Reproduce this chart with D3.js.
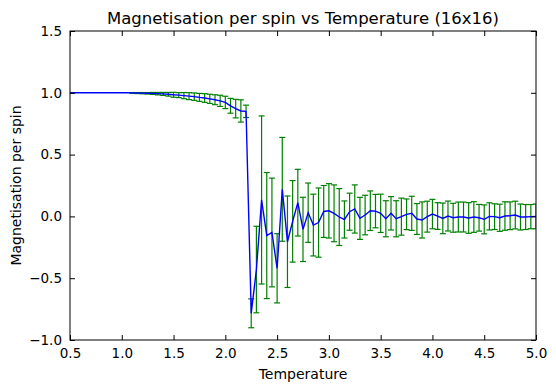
<!DOCTYPE html>
<html>
<head>
<meta charset="utf-8">
<script src="https://cdn.jsdelivr.net/npm/d3@7"></script>
<style>
  body { margin: 0; background: #fff; }
  svg text { font-family: "DejaVu Sans", sans-serif; fill: #000; }
</style>
</head>
<body>
<script>
// temperatures (step 0.05)
const temperatures = d3.range(0, 91).map(i => +(0.5 + i * 0.05).toFixed(2));

// magnetisation per spin
const magnetisation = [
  1, 1, 1, 1, 1, 1, 1, 1, 1, 1, 1, 1,
  0.999, 0.998, 0.997, 0.996, 0.995, 0.993, 0.991, 0.988, 0.984, 0.981,
  0.977, 0.973, 0.969, 0.963, 0.958, 0.951, 0.944, 0.935, 0.922, 0.895,
  0.872, 0.853, 0.85,
  -0.784, -0.43, 0.133, -0.155, -0.13, -0.42, 0.219, -0.205, -0.04, 0.111,
  -0.105, 0.03, -0.07, -0.05, 0.04, 0.045, 0.025, -0.005, -0.025, 0.038,
  0.06, -0.016, 0.011, 0.046, 0.043, 0.025, -0.019, 0.025, -0.019, -0.002,
  0.017, 0.025, -0.021, -0.029, -0.002, 0.019, 0.003, -0.016, 0.003, -0.011,
  -0.005, -0.005, -0.013, -0.005, -0.011, -0.024, 0.0, -0.002, -0.011, 0.003,
  0.005, 0.011, -0.005, -0.005, -0.002, 0.0
];

// error bar half-lengths
const errors = [
  0, 0, 0, 0, 0, 0, 0, 0, 0, 0, 0, 0,
  0.003, 0.004, 0.005, 0.006, 0.008, 0.01, 0.012, 0.015, 0.02, 0.02,
  0.025, 0.028, 0.03, 0.032, 0.035, 0.037, 0.04, 0.045, 0.05, 0.06,
  0.075, 0.09, 0.05,
  0.117, 0.35, 0.68, 0.51, 0.44, 0.28, 0.42, 0.37, 0.33, 0.27,
  0.26, 0.24, 0.25, 0.28, 0.21, 0.22, 0.23, 0.23, 0.15, 0.15,
  0.195, 0.17, 0.16, 0.16, 0.135, 0.155, 0.146, 0.135, 0.146, 0.15,
  0.124, 0.138, 0.125, 0.146, 0.125, 0.119, 0.108, 0.124, 0.121, 0.117,
  0.121, 0.121, 0.124, 0.124, 0.108, 0.117, 0.11, 0.104, 0.11, 0.115,
  0.112, 0.112, 0.105, 0.101, 0.098, 0.1
];

const xTicks = [0.5, 1.0, 1.5, 2.0, 2.5, 3.0, 3.5, 4.0, 4.5, 5.0];
const yTicks = [-1.0, -0.5, 0.0, 0.5, 1.0, 1.5];

const data = temperatures.map((t, i) => ({ t: t, m: magnetisation[i], e: errors[i] }));

const W = 556, H = 391;
const margin = { top: 31, right: 20, bottom: 51, left: 70 };
const width = W - margin.left - margin.right;
const height = H - margin.top - margin.bottom;

const svg = d3.select("body").append("svg")
  .attr("width", W)
  .attr("height", H);

const g = svg.append("g")
  .attr("transform", "translate(" + margin.left + "," + margin.top + ")");

const x = d3.scaleLinear().domain([0.5, 5.0]).range([0, width]);
const y = d3.scaleLinear().domain([-1.0, 1.5]).range([height, 0]);

const fmt = d => d3.format(".1f")(d).replace("-", "\u2212");

g.append("clipPath").attr("id", "clip")
  .append("rect").attr("width", width).attr("height", height);

const plot = g.append("g").attr("clip-path", "url(#clip)");

// error bars
const bars = plot.selectAll(".err")
  .data(data.filter(d => d.e > 0))
  .enter().append("g")
  .attr("class", "err")
  .attr("stroke", "#008000")
  .attr("stroke-width", 1.2);

bars.append("line")
  .attr("x1", d => x(d.t)).attr("x2", d => x(d.t))
  .attr("y1", d => y(d.m - d.e)).attr("y2", d => y(d.m + d.e));
bars.append("line")
  .attr("x1", d => x(d.t) - 3).attr("x2", d => x(d.t) + 3)
  .attr("y1", d => y(d.m + d.e)).attr("y2", d => y(d.m + d.e));
bars.append("line")
  .attr("x1", d => x(d.t) - 3).attr("x2", d => x(d.t) + 3)
  .attr("y1", d => y(d.m - d.e)).attr("y2", d => y(d.m - d.e));

// line
plot.append("path")
  .datum(data)
  .attr("fill", "none")
  .attr("stroke", "#0000ff")
  .attr("stroke-width", 1.4)
  .attr("d", d3.line().x(d => x(d.t)).y(d => y(d.m)));

// axes, ticks inward on all four sides
g.append("g")
  .attr("transform", "translate(0," + height + ")")
  .call(d3.axisBottom(x).tickValues(xTicks).tickFormat(fmt).tickSizeInner(-5).tickSizeOuter(0).tickPadding(8))
  .call(a => a.select(".domain").remove())
  .selectAll("text").style("font-size", "13.5px");

g.append("g")
  .call(d3.axisTop(x).tickValues(xTicks).tickFormat("").tickSizeInner(-5).tickSizeOuter(0))
  .call(a => a.select(".domain").remove());

g.append("g")
  .call(d3.axisLeft(y).tickValues(yTicks).tickFormat(fmt).tickSizeInner(-5).tickSizeOuter(0).tickPadding(8))
  .call(a => a.select(".domain").remove())
  .selectAll("text").style("font-size", "13.5px");

g.append("g")
  .attr("transform", "translate(" + width + ",0)")
  .call(d3.axisRight(y).tickValues(yTicks).tickFormat("").tickSizeInner(-5).tickSizeOuter(0))
  .call(a => a.select(".domain").remove());

g.append("rect")
  .attr("width", width).attr("height", height)
  .attr("fill", "none").attr("stroke", "#000").attr("stroke-width", 1);

// labels
svg.append("text")
  .attr("x", margin.left + width / 2)
  .attr("y", 24)
  .attr("text-anchor", "middle")
  .style("font-size", "16.5px")
  .text("Magnetisation per spin vs Temperature (16x16)");

svg.append("text")
  .attr("x", margin.left + width / 2)
  .attr("y", 379)
  .attr("text-anchor", "middle")
  .style("font-size", "14px")
  .text("Temperature");

svg.append("text")
  .attr("transform", "translate(21," + (margin.top + height / 2) + ") rotate(-90)")
  .attr("text-anchor", "middle")
  .style("font-size", "14px")
  .text("Magnetisation per spin");
</script>
</body>
</html>
